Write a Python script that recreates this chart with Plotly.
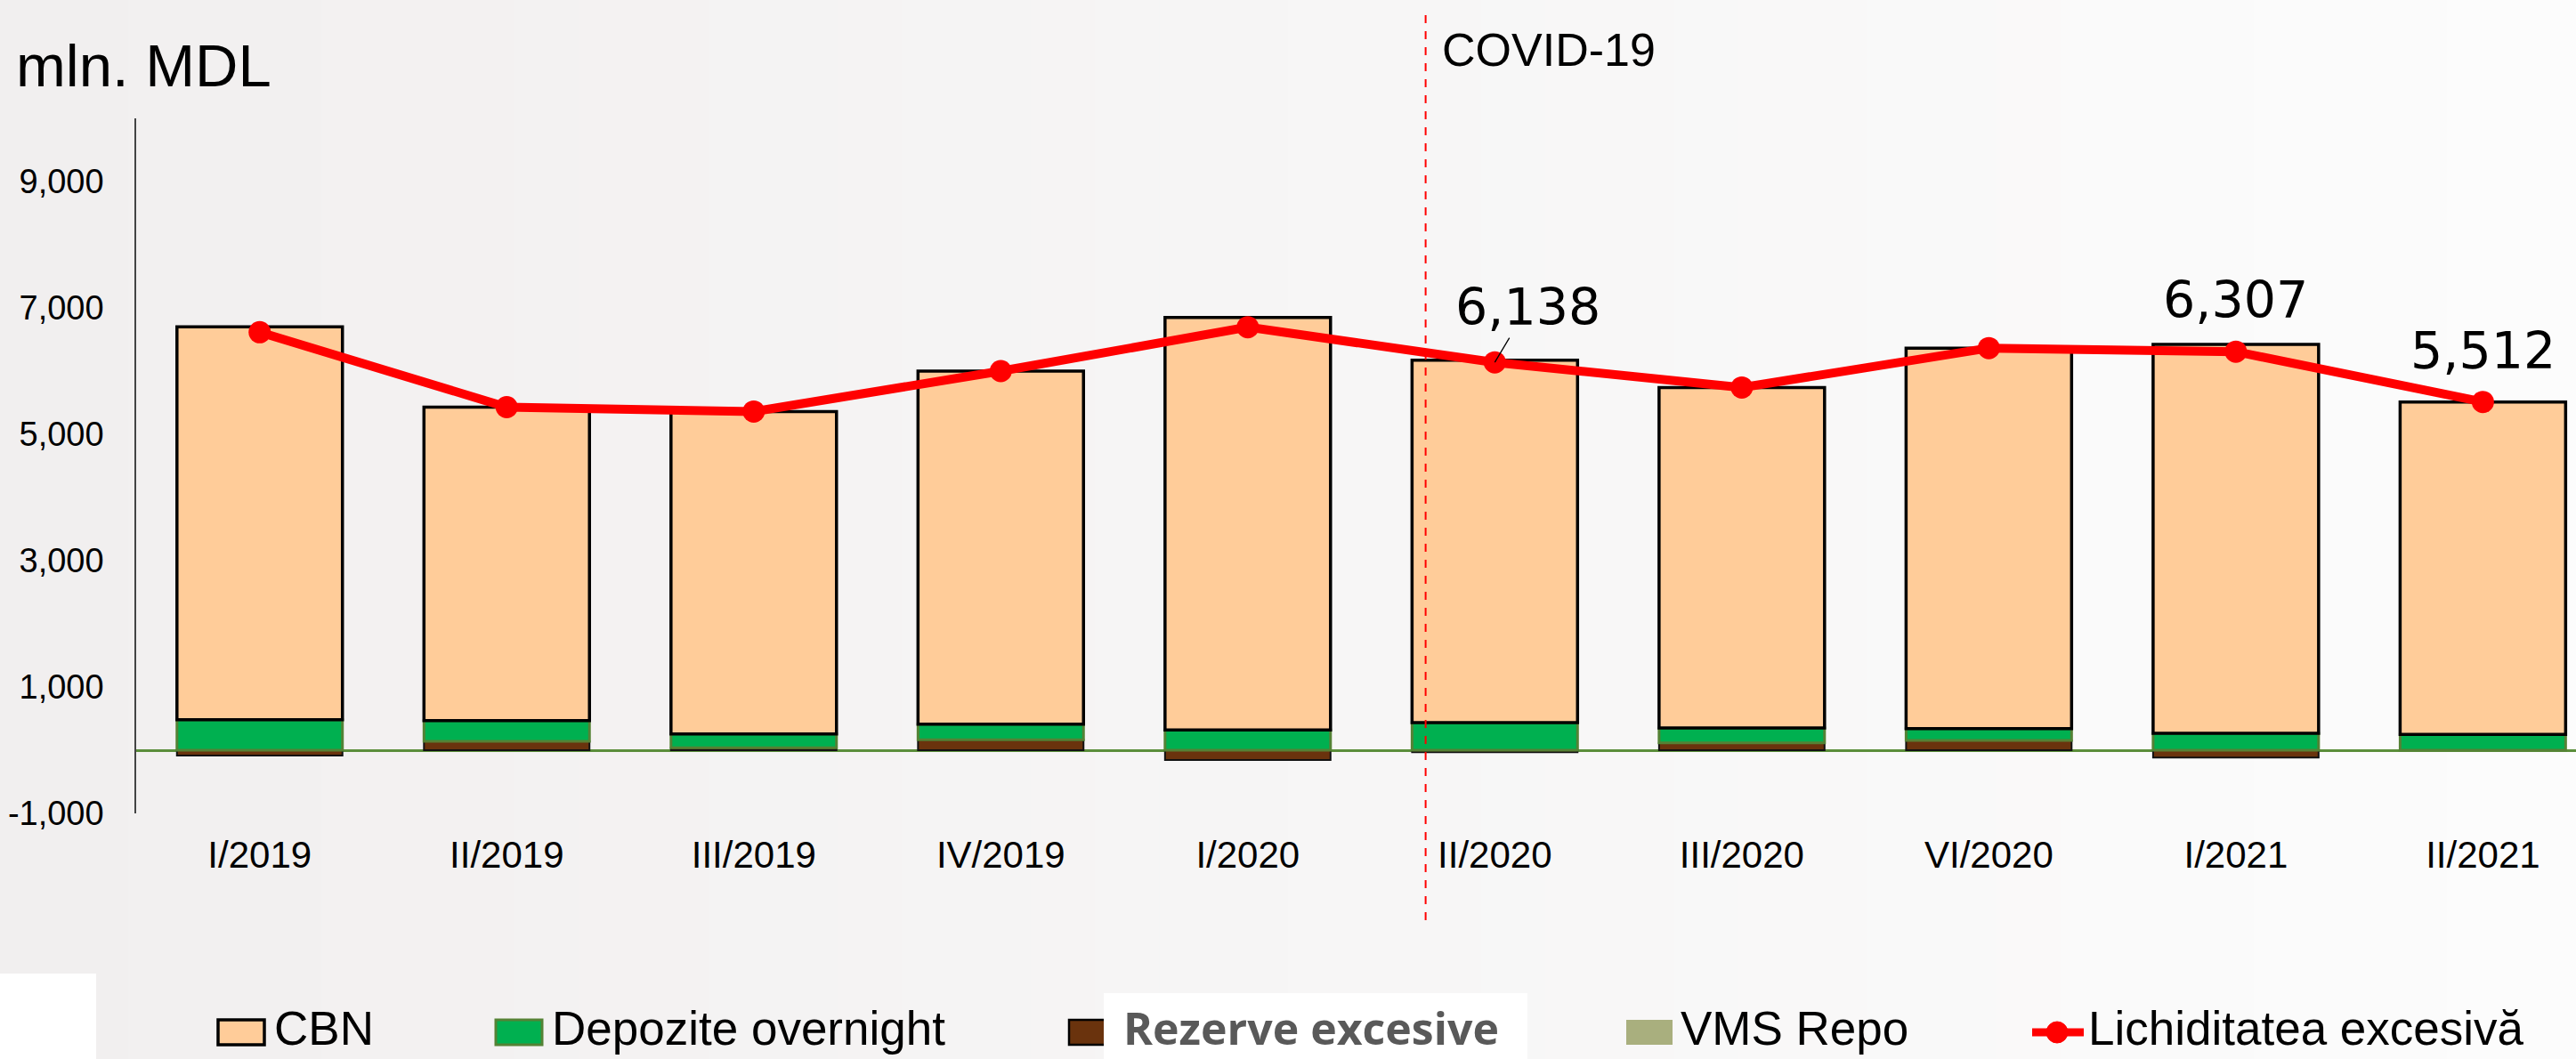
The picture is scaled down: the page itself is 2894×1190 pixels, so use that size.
import plotly.graph_objects as go

# ---------------- data ----------------
categories = ["I/2019", "II/2019", "III/2019", "IV/2019", "I/2020",
              "II/2020", "III/2020", "VI/2020", "I/2021", "II/2021"]
cbn = [6216, 4960, 5102, 5587, 6531, 5734, 5388, 6021, 6156, 5263]
depozite_overnight = [484, 329, 218, 249, 319, 437, 235, 188, 268, 249]
rezerve_excesive = [-85, 141, 40, 164, -155, -33, 117, 155, -117, 0]
vms_repo = [0, 0, 0, 0, 0, 0, 0, 0, 0, 0]
lichiditatea_excesiva = [6615, 5430, 5360, 6000, 6695, 6138, 5740, 6364, 6307, 5512]
labeled_points = ["II/2020", "I/2021", "II/2021"]
y_tick_values = [-1000, 1000, 3000, 5000, 7000, 9000]
y_tick_labels = ["-1,000", "1,000", "3,000", "5,000", "7,000", "9,000"]
series_names = ["CBN", "Depozite overnight", "Rezerve excesive", "VMS Repo",
                "Lichiditatea excesivă"]
covid_label = "COVID-19"
covid_position = 4.72          # position on the category axis
unit_label = "mln. MDL"

# ---------------- style ----------------
W, H = 2894, 1190
ML, MR, MT, MB = 153, 0, 133, 276
PW, PH = W - ML - MR, H - MT - MB

C_CBN = "#FFCC99"
C_GREEN = "#00B050"
C_GREEN_EDGE = "#548235"
C_BROWN = "#6A330D"
C_VMS = "#A9AF7E"
C_RED = "#FF0000"
C_ZERO = "#5B8E3B"
ARIAL = "Liberation Sans, Arial, sans-serif"
DEJAVU = "DejaVu Sans, Verdana, sans-serif"


def px_x(px):
    return (px - ML) / PW


def px_y(py):
    return (H - MB - py) / PH


def mix(c1, c2, t):
    a = [int(c1[i:i + 2], 16) for i in (1, 3, 5)]
    b = [int(c2[i:i + 2], 16) for i in (1, 3, 5)]
    return "#" + "".join(f"{round(a[k] + (b[k] - a[k]) * t):02x}" for k in range(3))


fig = go.Figure()

fig.add_trace(go.Bar(name=series_names[2], x=categories, y=rezerve_excesive,
                     marker=dict(color=C_BROWN, line=dict(color="#111111", width=2)),
                     showlegend=False))
fig.add_trace(go.Bar(name=series_names[1], x=categories, y=depozite_overnight,
                     marker=dict(color=C_GREEN, line=dict(color=C_GREEN_EDGE, width=3)),
                     showlegend=False))
fig.add_trace(go.Bar(name=series_names[3], x=categories, y=vms_repo,
                     marker=dict(color=C_VMS, line=dict(width=0)),
                     showlegend=False))
fig.add_trace(go.Bar(name=series_names[0], x=categories, y=cbn,
                     marker=dict(color=C_CBN, line=dict(color="#000000", width=3.5)),
                     showlegend=False))
fig.add_trace(go.Scatter(name=series_names[4], x=categories, y=lichiditatea_excesiva,
                         mode="lines+markers",
                         line=dict(color=C_RED, width=10),
                         marker=dict(color=C_RED, size=25),
                         showlegend=False))

# data labels
annotations = []
for cat in labeled_points:
    i = categories.index(cat)
    val = lichiditatea_excesiva[i]
    txt = f"{val:,}"
    if cat == "II/2020":
        annotations.append(dict(x=cat, y=val, xref="x", yref="y", text=txt,
                                showarrow=True, arrowhead=0, arrowwidth=1.3,
                                arrowcolor="#000000", ax=37, ay=-62, standoff=0,
                                font=dict(family=DEJAVU, size=57, color="#000000")))
    else:
        annotations.append(dict(x=cat, y=val, xref="x", yref="y", text=txt,
                                showarrow=False, yshift=58, yanchor="middle",
                                font=dict(family=DEJAVU, size=57, color="#000000")))

# unit label and COVID label
annotations.append(dict(x=px_x(16), y=px_y(73), xref="paper", yref="paper",
                        text=unit_label, showarrow=False, xanchor="left",
                        yanchor="middle",
                        font=dict(family=ARIAL, size=67, color="#000000")))
annotations.append(dict(x=covid_position, y=px_y(56), xref="x", yref="paper",
                        text=covid_label, showarrow=False, xanchor="left",
                        yanchor="middle", xshift=16,
                        font=dict(family=ARIAL, size=52, color="#000000")))

shapes = []
# background gradient (vertical strips, darker left to lighter right)
n_strips = 40
for k in range(n_strips):
    x0 = W * k / n_strips
    x1 = W * (k + 1) / n_strips + 1
    shapes.append(dict(type="rect", xref="paper", yref="paper",
                       x0=px_x(x0), x1=px_x(x1), y0=px_y(H + 2), y1=px_y(-2),
                       fillcolor=mix("#f1efef", "#fcfcfc", (k + 0.5) / n_strips),
                       line=dict(width=0), layer="below"))

# COVID divider
shapes.append(dict(type="line", xref="x", yref="paper",
                   x0=covid_position, x1=covid_position,
                   y0=px_y(1034), y1=px_y(13),
                   line=dict(color=C_RED, width=2, dash="dash"), layer="above"))

# white patch bottom-left
shapes.append(dict(type="rect", xref="paper", yref="paper",
                   x0=px_x(-2), x1=px_x(108), y0=px_y(H + 5), y1=px_y(1094),
                   fillcolor="#FFFFFF", line=dict(width=0), layer="above"))

# ---------------- manual legend ----------------
leg_y0, leg_y1, leg_text_y = 1146, 1174, 1155
legend_items = [
    # name, symbol left, text left, fill, edge color, edge width
    (series_names[0], 245, 306, C_CBN, "#000000", 3.5),
    (series_names[1], 557, 618, C_GREEN, C_GREEN_EDGE, 3),
    (series_names[2], 1201, 1260, C_BROWN, "#000000", 2.5),
    (series_names[3], 1827, 1886, C_VMS, None, 0),
]
for name, sx, tx, fill, edge, ew in legend_items:
    shapes.append(dict(type="rect", xref="paper", yref="paper",
                       x0=px_x(sx), x1=px_x(sx + 52), y0=px_y(leg_y1), y1=px_y(leg_y0),
                       fillcolor=fill,
                       line=dict(color=edge if edge else fill, width=ew),
                       layer="above"))
    if name == series_names[2]:
        shapes.append(dict(type="rect", xref="paper", yref="paper",
                           x0=px_x(1240), x1=px_x(1716), y0=px_y(H + 5), y1=px_y(1116),
                           fillcolor="#FFFFFF", line=dict(width=0), layer="above"))
        annotations.append(dict(x=px_x(tx), y=px_y(leg_text_y), xref="paper", yref="paper",
                                text=f"<b>{name}</b>", showarrow=False, xanchor="left",
                                yanchor="middle",
                                font=dict(family="Open Sans, sans-serif", size=50,
                                          color="#595959")))
    else:
        annotations.append(dict(x=px_x(tx), y=px_y(leg_text_y), xref="paper", yref="paper",
                                text=name, showarrow=False, xanchor="left",
                                yanchor="middle",
                                font=dict(family=ARIAL, size=53, color="#000000")))

# line legend entry
shapes.append(dict(type="line", xref="paper", yref="paper",
                   x0=px_x(2283), x1=px_x(2341), y0=px_y(1160), y1=px_y(1160),
                   line=dict(color=C_RED, width=9), layer="above"))
shapes.append(dict(type="circle", xref="paper", yref="paper",
                   x0=px_x(2299), x1=px_x(2323), y0=px_y(1172), y1=px_y(1148),
                   fillcolor=C_RED, line=dict(color=C_RED, width=1), layer="above"))
annotations.append(dict(x=px_x(2344), y=px_y(leg_text_y), xref="paper", yref="paper",
                        text=series_names[4], showarrow=False, xanchor="left",
                        yanchor="middle",
                        font=dict(family=ARIAL, size=53, color="#000000")))

fig.update_layout(
    width=W, height=H,
    margin=dict(l=ML, r=MR, t=MT, b=MB, pad=0),
    paper_bgcolor="#f6f5f5",
    plot_bgcolor="rgba(0,0,0,0)",
    barmode="relative",
    bargap=0.33,
    showlegend=False,
    annotations=annotations,
    shapes=shapes,
    font=dict(family=ARIAL, color="#000000"),
)
fig.update_xaxes(type="category", categoryorder="array", categoryarray=categories,
                 range=[-0.5, 9.377], showgrid=False, showline=False, zeroline=False,
                 ticks="", tickfont=dict(family=ARIAL, size=42, color="#000000"),
                 ticklabelstandoff=18)
fig.update_yaxes(range=[-1000, 10000], tickvals=y_tick_values, ticktext=y_tick_labels,
                 showgrid=False, zeroline=True, zerolinecolor=C_ZERO, zerolinewidth=2.5,
                 showline=True, linecolor="#444444", linewidth=1.5, ticks="",
                 tickfont=dict(family=ARIAL, size=38, color="#000000"),
                 ticklabelstandoff=27)

fig.write_html("out.html",
               config={"displayModeBar": False},
               post_script="document.body.style.margin='0';"
                           "document.body.style.overflow='hidden';")
